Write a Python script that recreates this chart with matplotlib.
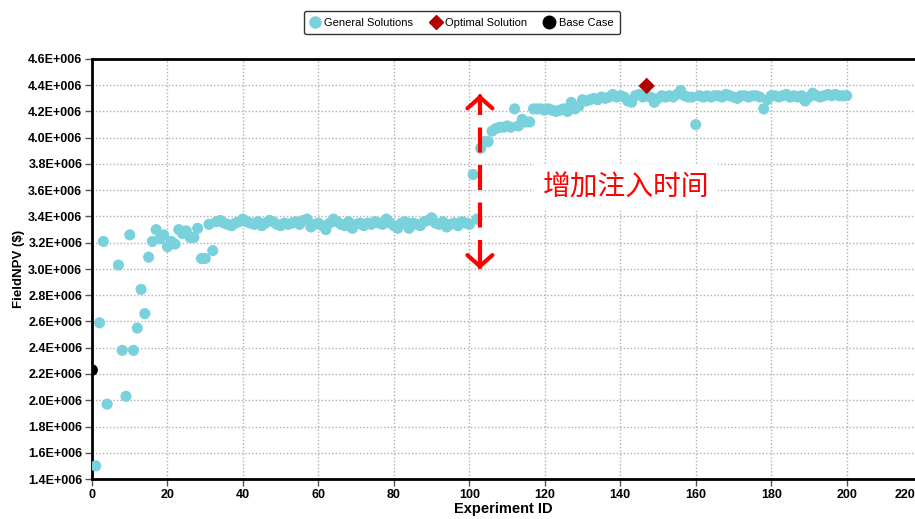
import matplotlib

matplotlib.use("Agg")

import matplotlib.pyplot as plt
from matplotlib.lines import Line2D
from matplotlib.ticker import FuncFormatter, MultipleLocator

# ---- data (NPV in millions) ----
early_ids = [1, 2, 3, 4, 7, 8, 9, 10, 11, 12, 13, 14, 15, 16, 17, 18, 19, 20,
             21, 22, 23, 24, 25, 26, 27, 28, 29, 30, 31, 32, 33, 34, 35, 36]
early_npv = [1.50, 2.59, 3.21, 1.97, 3.03, 2.38, 2.03, 3.26, 2.38, 2.55, 2.845, 2.66,
             3.09, 3.21, 3.30, 3.23, 3.26, 3.17, 3.21, 3.19, 3.30, 3.27, 3.29, 3.24,
             3.24, 3.31, 3.08, 3.08, 3.34, 3.14, 3.36, 3.37, 3.35, 3.34]

# experiments 37..100
mid_npv = [3.33, 3.35, 3.36, 3.38, 3.36, 3.35, 3.34, 3.36, 3.33, 3.35,
           3.37, 3.36, 3.34, 3.33, 3.35, 3.34, 3.35, 3.36, 3.34, 3.37,
           3.38, 3.32, 3.34, 3.35, 3.33, 3.30, 3.35, 3.38, 3.36, 3.34,
           3.33, 3.36, 3.31, 3.34, 3.35, 3.33, 3.35, 3.34, 3.36, 3.35,
           3.34, 3.38, 3.35, 3.33, 3.31, 3.35, 3.36, 3.31, 3.35, 3.34,
           3.33, 3.36, 3.37, 3.39, 3.35, 3.34, 3.36, 3.32, 3.34, 3.35,
           3.33, 3.36, 3.35, 3.34]

# experiments 101..200
late_npv = [3.72, 3.38, 3.92, 3.97, 3.97, 4.05, 4.07, 4.08, 4.08, 4.09,
            4.08, 4.22, 4.09, 4.14, 4.12, 4.12, 4.22, 4.22, 4.22, 4.21,
            4.22, 4.21, 4.20, 4.21, 4.22, 4.20, 4.27, 4.22, 4.24, 4.29,
            4.28, 4.29, 4.30, 4.29, 4.31, 4.30, 4.31, 4.33, 4.31, 4.32,
            4.31, 4.28, 4.27, 4.32, 4.33, 4.31, 4.32, 4.31, 4.27, 4.30,
            4.32, 4.31, 4.32, 4.31, 4.33, 4.36, 4.32, 4.31, 4.31, 4.10,
            4.32, 4.31, 4.32, 4.31, 4.32, 4.32, 4.31, 4.33, 4.32, 4.31,
            4.30, 4.32, 4.32, 4.31, 4.32, 4.32, 4.31, 4.22, 4.29, 4.32,
            4.32, 4.31, 4.32, 4.33, 4.31, 4.32, 4.31, 4.32, 4.28, 4.31,
            4.34, 4.32, 4.31, 4.32, 4.33, 4.32, 4.33, 4.32, 4.32, 4.32]

gen_ids = early_ids + list(range(37, 101)) + list(range(101, 201))
gen_npv = [v * 1e6 for v in early_npv + mid_npv + late_npv]
assert len(gen_ids) == len(gen_npv)

optimal_id, optimal_npv = 147, 4.395e6
base_id, base_npv = 0, 2.23e6

xticks = [0, 20, 40, 60, 80, 100, 120, 140, 160, 180, 200]
note_text = "增加注入时间"
arrow_x, arrow_top, arrow_bottom = 102.8, 4.33e6, 3.0e6

cyan = "#79D1DB"
darkred = "#B00000"

plt.rcParams["font.family"] = ["Liberation Sans", "DejaVu Sans"]

fig = plt.figure(figsize=(9.15, 5.19), dpi=100)
ax = fig.add_axes([92 / 915, 40 / 519, 823 / 915, 420 / 519])

ax.scatter(gen_ids, gen_npv, s=64, color=cyan, edgecolors="none", zorder=3)
ax.scatter([optimal_id], [optimal_npv], s=70, marker="D", color=darkred,
           edgecolors="none", zorder=4)
ax.scatter([base_id], [base_npv], s=72, color="black", edgecolors="none", zorder=4)

ax.set_xlim(0, 218.1)
ax.set_ylim(1.4e6, 4.6e6)
ax.set_xticks(xticks)
ax.yaxis.set_major_locator(MultipleLocator(0.2e6))
ax.yaxis.set_major_formatter(FuncFormatter(lambda v, p: f"{v / 1e6:.1f}E+006"))

for lab in ax.get_xticklabels() + ax.get_yticklabels():
    lab.set_fontweight("bold")
ax.tick_params(axis="both", labelsize=9, length=5, width=1, color="#555555", pad=2)

# last x label sits at the clipped edge
ax.text(1.0, -0.0235, "220", transform=ax.transAxes, ha="right", va="top",
        fontsize=9, fontweight="bold")

ax.grid(True, linestyle=(0, (1, 1.5)), color="#b0b0b0", linewidth=1.0, zorder=0)
ax.set_axisbelow(True)

ax.spines["right"].set_visible(False)
ax.spines["left"].set_linewidth(2)
ax.spines["bottom"].set_linewidth(2)
ax.spines["top"].set_linewidth(2)

ax.set_xlabel("Experiment ID", fontsize=10.5, fontweight="bold", labelpad=1)
ax.set_ylabel("FieldNPV ($)", fontsize=9.5, fontweight="bold", labelpad=2)

# dashed double arrow
ax.plot([arrow_x, arrow_x], [arrow_bottom + 0.03e6, arrow_top - 0.03e6], color="red",
        lw=3, linestyle=(0, (6, 3)), zorder=5)
for tip, tail in [(arrow_top, arrow_top - 0.02e6), (arrow_bottom, arrow_bottom + 0.02e6)]:
    ax.annotate("", xy=(arrow_x, tip), xytext=(arrow_x, tail),
                arrowprops=dict(arrowstyle="->,head_length=0.4,head_width=0.45",
                                color="red", lw=3, mutation_scale=20,
                                shrinkA=0, shrinkB=0), zorder=5)

ax.text(141.5, 3.62e6, note_text, color="red", fontsize=20,
        family=["Noto Sans CJK SC", "DejaVu Sans"], ha="center", va="center",
        bbox=dict(facecolor="white", edgecolor="none", pad=6), zorder=5)

handles = [
    Line2D([], [], marker="o", linestyle="none", color=cyan, markersize=8),
    Line2D([], [], marker="D", linestyle="none", color=darkred, markersize=7),
    Line2D([], [], marker="o", linestyle="none", color="black", markersize=9),
]
leg = fig.legend(handles, ["General Solutions", "Optimal Solution", "Base Case"],
                 loc="center", bbox_to_anchor=(462 / 915, 1 - 22.5 / 519), ncol=3,
                 fontsize=8, frameon=True, handlelength=0.8, handletextpad=0.45,
                 columnspacing=1.6, borderpad=0.6, fancybox=True)
leg.get_frame().set_edgecolor("black")
leg.get_frame().set_linewidth(1)

fig.savefig("out.png", dpi=100)
